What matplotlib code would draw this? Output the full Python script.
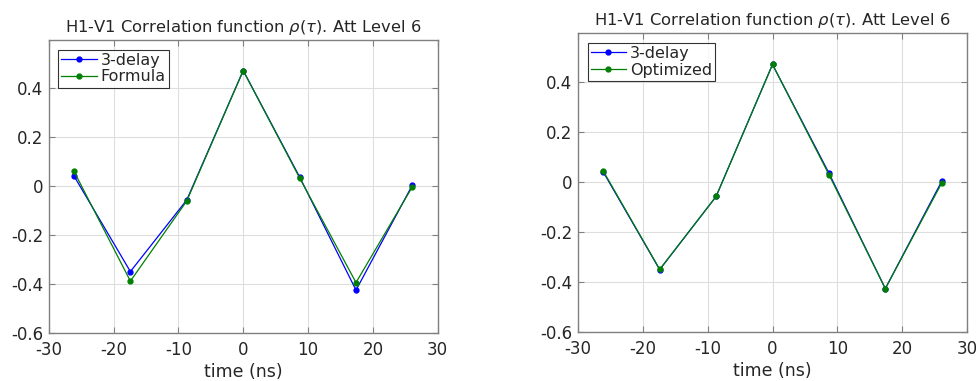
import matplotlib
matplotlib.use("Agg")
import matplotlib.pyplot as plt

# Delay axis (ns) and correlation estimates
tau = [-26.1, -17.4, -8.7, 0.0, 8.7, 17.4, 26.1]
rho_3delay = [0.041, -0.350, -0.057, 0.472, 0.037, -0.426, 0.004]
rho_formula = [0.060, -0.389, -0.061, 0.472, 0.033, -0.395, -0.003]
rho_optimized = [0.045, -0.349, -0.057, 0.472, 0.031, -0.426, -0.003]

xticks = [-30, -20, -10, 0, 10, 20, 30]
yticks = [-0.6, -0.4, -0.2, 0, 0.2, 0.4]
ytick_labels = ["-0.6", "-0.4", "-0.2", "0", "0.2", "0.4"]
xtick_labels = ["-30", "-20", "-10", "0", "10", "20", "30"]

title = r"H1-V1 Correlation function $\rho(\tau)$. Att Level 6"

plt.rcParams["font.family"] = ["DejaVu Sans"]
plt.rcParams["mathtext.fontset"] = "dejavusans"

W, H = 976, 381
fig = plt.figure(figsize=(W / 100, H / 100), dpi=100)

text_col = (0.15, 0.15, 0.15)
blue = (0.0, 0.0, 1.0)
green = (0.0, 0.5, 0.0)


def make_axes(rect_px, second_label, second_vals):
    x0, y0, x1, y1 = rect_px
    ax = fig.add_axes([x0 / W, 1 - y1 / H, (x1 - x0) / W, (y1 - y0) / H])
    ax.plot(tau, rho_3delay, "-o", color=blue, lw=0.9, ms=3.5, label="3-delay")
    ax.plot(tau, second_vals, "-o", color=green, lw=0.9, ms=3.5, label=second_label)
    ax.set_xlim(-30, 30)
    ax.set_ylim(-0.6, 0.597)
    ax.set_xticks(xticks)
    ax.set_xticklabels(xtick_labels)
    ax.set_yticks(yticks)
    ax.set_yticklabels(ytick_labels)
    ax.grid(True, color=(0.87, 0.87, 0.87), lw=0.8)
    ax.set_axisbelow(True)
    for s in ax.spines.values():
        s.set_color((0.5, 0.5, 0.5))
        s.set_linewidth(1.0)
    ax.tick_params(direction="in", length=4, top=True, right=True,
                   colors=(0.5, 0.5, 0.5), labelcolor=text_col, labelsize=12)
    ax.tick_params(axis="x", pad=6)
    ax.tick_params(axis="y", pad=4)
    ax.set_xlabel("time (ns)", fontsize=12.5, color=text_col, labelpad=3)
    ax.set_title(title, fontsize=11.8, color=text_col, pad=6)
    leg = ax.legend(loc="upper left", fontsize=11.5, frameon=True, fancybox=False,
                    borderpad=0.2, handlelength=2.2, handletextpad=0.25,
                    labelspacing=0.1, borderaxespad=0.6)
    leg.get_frame().set_edgecolor("black")
    leg.get_frame().set_linewidth(0.8)
    for t in leg.get_texts():
        t.set_color(text_col)
    return ax


make_axes((48.7, 40.0, 437.7, 332.7), "Formula", rho_formula)
make_axes((578.0, 33.3, 967.0, 332.0), "Optimized", rho_optimized)

fig.savefig("out.png", dpi=100, facecolor="white")
